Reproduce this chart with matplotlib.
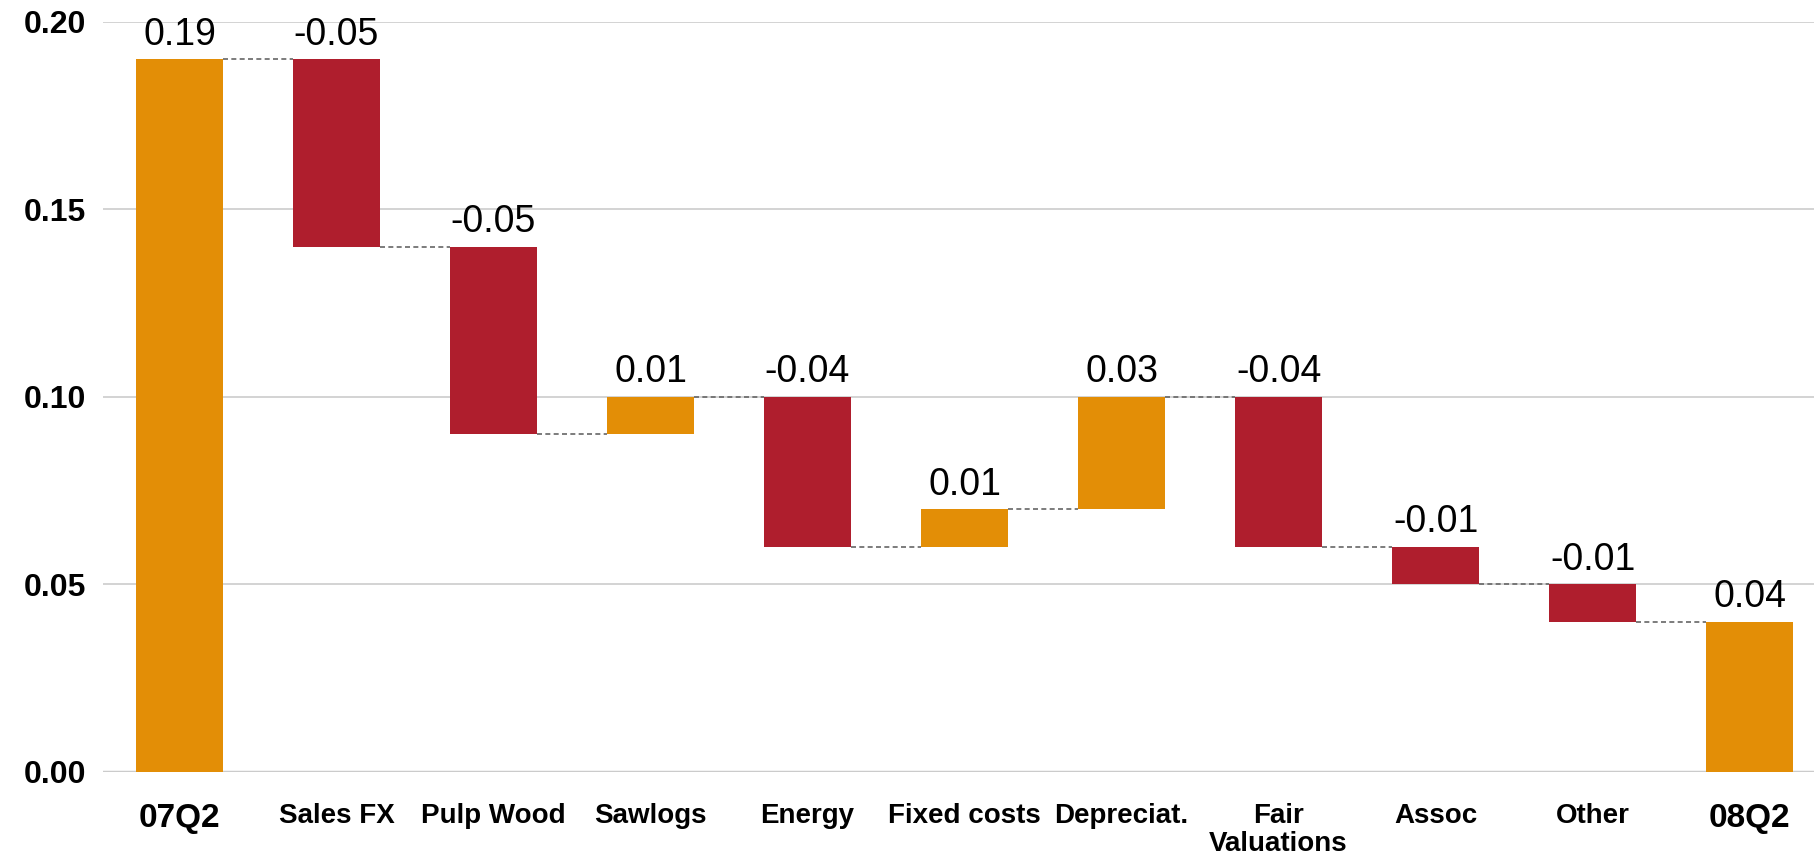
import numpy as np
import matplotlib
matplotlib.use('Agg')
import matplotlib.pyplot as plt

categories = ['07Q2', 'Sales FX', 'Pulp Wood', 'Sawlogs', 'Energy', 'Fixed costs',
              'Depreciat.', 'Fair\nValuations', 'Assoc', 'Other', '08Q2']
changes = [0.19, -0.05, -0.05, 0.01, -0.04, 0.01, 0.03, -0.04, -0.01, -0.01]
closing_value = 0.04
is_total = [True] + [False] * 9 + [True]

orange = '#E38E06'
red = '#AF1E2D'

# running level before/after each step
levels = np.cumsum(changes)
bottoms, heights, labels = [], [], []
for i, c in enumerate(changes):
    if i == 0:
        bottoms.append(0.0)
        heights.append(c)
    else:
        start = levels[i - 1]
        bottoms.append(min(start, start + c))
        heights.append(abs(c))
    labels.append(c)
bottoms.append(0.0)
heights.append(closing_value)
labels.append(closing_value)
colors = [orange if (tot or v > 0) else red for tot, v in zip(is_total, labels)]

fig = plt.figure(figsize=(18.14, 8.55), dpi=100)
ax = fig.add_axes([0.0568, 0.0971, 0.9432, 0.8772])
x = np.arange(len(categories))
width = 0.55
ax.bar(x, heights, bottom=bottoms, width=width, color=colors, zorder=3)

# dashed connectors between consecutive bars
ends = list(levels) + [closing_value]
for i in range(len(categories) - 1):
    ax.plot([x[i] + width / 2, x[i + 1] - width / 2], [ends[i], ends[i]],
            color='#666666', linestyle=(0, (3, 2)), linewidth=1.2, zorder=2)

for xi, b, h, v in zip(x, bottoms, heights, labels):
    ax.text(xi, b + h + 0.0018, f'{v:.2f}', ha='center', va='bottom',
            fontsize=27, family=['Liberation Sans', 'DejaVu Sans'])

ax.set_xlim(-0.487, 10.41)
ax.set_ylim(0, 0.2)
ax.set_yticks([0.0, 0.05, 0.10, 0.15, 0.20])
ax.set_yticklabels(['0.00', '0.05', '0.10', '0.15', '0.20'])
ax.grid(axis='y', color='#CCCCCC', linewidth=1.2, zorder=0)
ax.axhline(0, color='#C8C8C8', linewidth=2.5, zorder=1)
for s in ax.spines.values():
    s.set_visible(False)
ax.tick_params(length=0)
ax.tick_params(axis='y', pad=12)
ax.tick_params(axis='x', pad=22)
ax.set_xticks(x)
ax.set_xticklabels(categories, linespacing=1.1, va='top')
font = ['Liberation Sans', 'DejaVu Sans']
for lbl in ax.get_yticklabels():
    lbl.set_family(font)
    lbl.set_fontweight('bold')
    lbl.set_fontsize(23)
for i, lbl in enumerate(ax.get_xticklabels()):
    lbl.set_family(font)
    lbl.set_fontweight('bold')
    lbl.set_fontsize(24 if is_total[i] else 20)

fig.savefig('out.png', dpi=100)
